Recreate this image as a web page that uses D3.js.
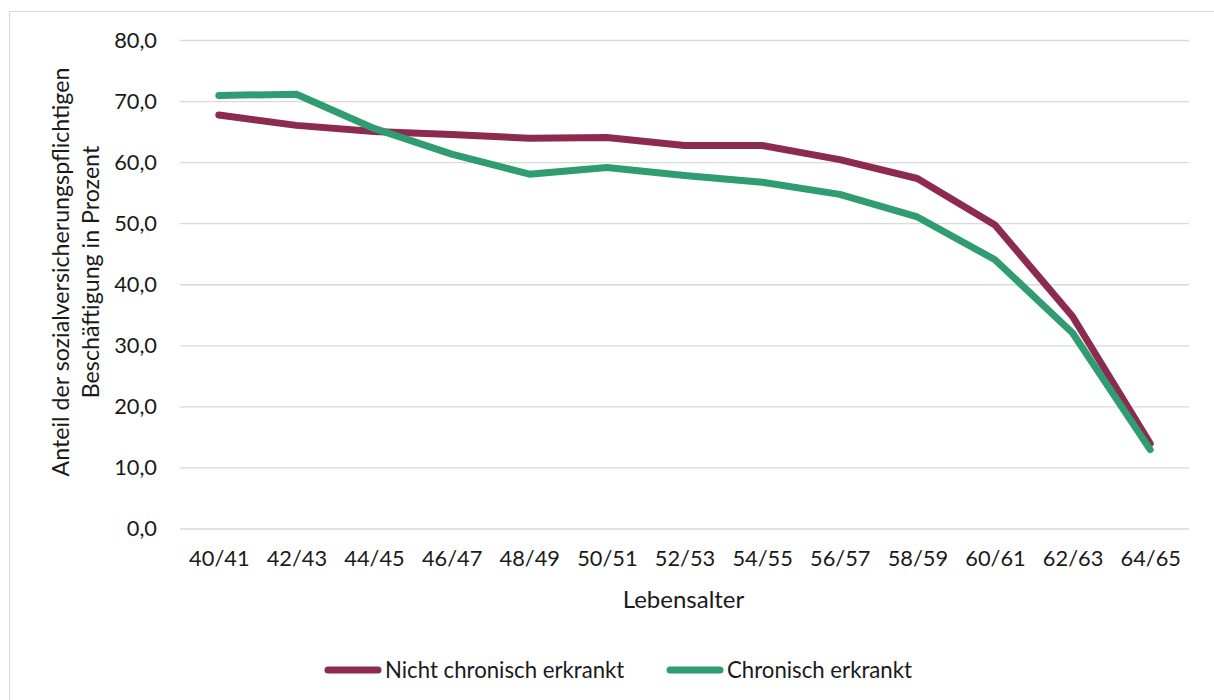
<!DOCTYPE html>
<html>
<head>
<meta charset="utf-8">
<script src="https://cdn.jsdelivr.net/npm/d3@7"></script>
<style>
  html, body { margin: 0; padding: 0; background: #fff; }
  svg { display: block; font-family: Lato, "Open Sans", sans-serif; }
</style>
</head>
<body>
<svg id="chart" width="1214" height="700"></svg>
<script>
// Altersgruppen (x-Achse)
const ageGroups = ["40/41", "42/43", "44/45", "46/47", "48/49", "50/51", "52/53",
                   "54/55", "56/57", "58/59", "60/61", "62/63", "64/65"];
// Anteil sozialversicherungspflichtig Beschäftigter in Prozent
const nichtChronisch = [67.8, 66.1, 65.1, 64.6, 64.0, 64.1, 62.8, 62.8, 60.5, 57.4, 49.8, 34.8, 14.0];
const chronisch      = [71.0, 71.2, 65.6, 61.4, 58.1, 59.2, 57.9, 56.8, 54.8, 51.1, 44.1, 32.1, 13.0];
const yTicks = [0, 10, 20, 30, 40, 50, 60, 70, 80];

const seriesNames = ["Nicht chronisch erkrankt", "Chronisch erkrankt"];
const seriesColors = ["#8D2A4F", "#2F9C72"];
const seriesData = [nichtChronisch, chronisch];

const svg = d3.select("#chart");
const plotLeft = 180, plotRight = 1189, plotTop = 40.5, plotBottom = 529;
const textColor = "#1a1a1a";

// Rahmen der Diagrammfläche
svg.append("path")
  .attr("d", "M9.5,700 L9.5,11.5 L1214,11.5")
  .attr("fill", "none").attr("stroke", "#d9d9d9").attr("stroke-width", 1);

const x = d3.scalePoint().domain(ageGroups).range([plotLeft, plotRight]).padding(0.5);
const y = d3.scaleLinear().domain([0, 80]).range([plotBottom, plotTop]);

// Gitternetzlinien
svg.append("g").selectAll("line").data(yTicks).join("line")
  .attr("x1", plotLeft).attr("x2", plotRight)
  .attr("y1", d => y(d)).attr("y2", d => y(d))
  .attr("stroke", "#d9d9d9").attr("stroke-width", 1.3);

// y-Achse
const yAxis = svg.append("g").attr("transform", `translate(${plotLeft},0)`)
  .call(d3.axisLeft(y).tickValues(yTicks).tickSize(0).tickPadding(23)
    .tickFormat(d => d3.format(".1f")(d).replace(".", ",")));
yAxis.select(".domain").remove();
yAxis.selectAll("text").attr("font-size", 21.8).attr("fill", textColor)
  .attr("font-family", "Lato, 'Open Sans', sans-serif");

// x-Achse
const xAxis = svg.append("g").attr("transform", `translate(0,${plotBottom})`)
  .call(d3.axisBottom(x).tickSize(0).tickPadding(22));
xAxis.select(".domain").remove();
xAxis.selectAll("text").attr("font-size", 21.8).attr("fill", textColor)
  .attr("font-family", "Lato, 'Open Sans', sans-serif");

// Achsentitel
svg.append("text").attr("x", (plotLeft + plotRight) / 2 - 1).attr("y", 608)
  .attr("text-anchor", "middle").attr("font-size", 24).attr("fill", textColor)
  .text("Lebensalter");

const yTitle = svg.append("text")
  .attr("transform", "translate(0,272) rotate(-90)")
  .attr("text-anchor", "middle").attr("font-size", 23.2).attr("fill", textColor);
yTitle.append("tspan").attr("x", 0).attr("y", 69).text("Anteil der sozialversicherungspflichtigen");
yTitle.append("tspan").attr("x", 0).attr("y", 99).text("Beschäftigung in Prozent");

// Linien
const line = d3.line().x((d, i) => x(ageGroups[i])).y(d => y(d));
svg.append("g").selectAll("path").data(seriesData).join("path")
  .attr("d", d => line(d))
  .attr("fill", "none")
  .attr("stroke", (d, i) => seriesColors[i])
  .attr("stroke-width", 7)
  .attr("stroke-linecap", "round")
  .attr("stroke-linejoin", "round");

// Legende
const legendX = [325, 667];
const legend = svg.append("g").selectAll("g").data(seriesNames).join("g")
  .attr("transform", (d, i) => `translate(${legendX[i]},670)`);
legend.append("line").attr("x1", 3).attr("x2", 53)
  .attr("stroke", (d, i) => seriesColors[i]).attr("stroke-width", 7)
  .attr("stroke-linecap", "round");
legend.append("text").attr("x", 60).attr("y", 8)
  .attr("font-size", 22.2).attr("fill", textColor).text(d => d);
</script>
</body>
</html>
